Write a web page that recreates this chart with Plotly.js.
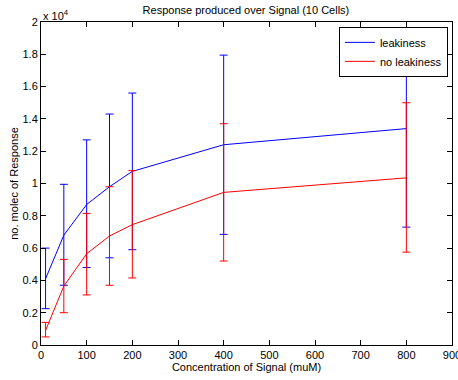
<!DOCTYPE html>
<html><head><meta charset="utf-8">
<script src="https://cdn.plot.ly/plotly-3.0.1.min.js"></script>
<style>html,body{margin:0;padding:0;background:#fff}#c{width:458px;height:380px}</style>
</head><body><div id="c"></div>
<script>
const signal = [10, 50, 100, 150, 200, 400, 800];
const leakMean = [4100, 6800, 8700, 9800, 10750, 12400, 13400];
const leakUp = [6000, 9950, 12700, 14300, 15600, 17950, 19500];
const leakLow = [2250, 3700, 4800, 5400, 5900, 6850, 7300];
const noLeakMean = [900, 3650, 5650, 6750, 7450, 9450, 10350];
const noLeakUp = [1400, 5300, 8150, 9800, 10800, 13700, 15000];
const noLeakLow = [500, 2000, 3100, 3700, 4150, 5200, 5750];
const yTickVals = [0, 2000, 4000, 6000, 8000, 10000, 12000, 14000, 16000, 18000, 20000];
const yTickText = ['0', '0.2', '0.4', '0.6', '0.8', '1', '1.2', '1.4', '1.6', '1.8', '2'];
const xTickVals = [0, 100, 200, 300, 400, 500, 600, 700, 800, 900];

function err(mean, up, low, color) {
  return {type: 'data', symmetric: false,
    array: up.map((v, i) => v - mean[i]),
    arrayminus: mean.map((v, i) => v - low[i]),
    color: color, thickness: 1, width: 4};
}
const font = {family: 'Liberation Sans, Arial, sans-serif', size: 11, color: '#000'};
const data = [
  {x: signal, y: leakMean, name: 'leakiness', mode: 'lines', type: 'scatter',
   line: {color: '#0000ff', width: 1}, error_y: err(leakMean, leakUp, leakLow, '#0000ff')},
  {x: signal, y: noLeakMean, name: 'no leakiness', mode: 'lines', type: 'scatter',
   line: {color: '#ff0000', width: 1}, error_y: err(noLeakMean, noLeakUp, noLeakLow, '#ff0000')}
];
const axis = {showgrid: false, zeroline: false, showline: true, linecolor: '#000', linewidth: 1,
  mirror: 'ticks', ticks: 'inside', ticklen: 5, tickcolor: '#000', tickfont: font, ticklabeloverflow: 'allow'};
const layout = {
  width: 458, height: 380, paper_bgcolor: '#fff', plot_bgcolor: '#fff',
  margin: {l: 41, r: 6, t: 22, b: 35},
  font: font,
  title: {text: 'Response produced over Signal (10 Cells)', font: font, x: 0.537, xanchor: 'center', y: 0.972, yanchor: 'middle'},
  xaxis: Object.assign({}, axis, {range: [0, 900], tickvals: xTickVals,
    title: {text: 'Concentration of Signal (muM)', font: font, standoff: 2}}),
  yaxis: Object.assign({}, axis, {range: [0, 20000], tickvals: yTickVals, ticktext: yTickText,
    title: {text: 'no. molec of Response', font: font, standoff: 1}}),
  showlegend: true,
  legend: {x: 0.99, y: 0.985, xanchor: 'right', yanchor: 'top', bgcolor: '#fff',
    bordercolor: '#000', borderwidth: 1, font: font, tracegroupgap: 0, itemwidth: 30},
  annotations: [{text: 'x 10<sup>4</sup>', xref: 'paper', yref: 'paper', x: 0, y: 1, xanchor: 'left', yanchor: 'bottom',
    showarrow: false, font: font, yshift: -2}]
};
Plotly.newPlot('c', data, layout, {staticPlot: true});
</script></body></html>
